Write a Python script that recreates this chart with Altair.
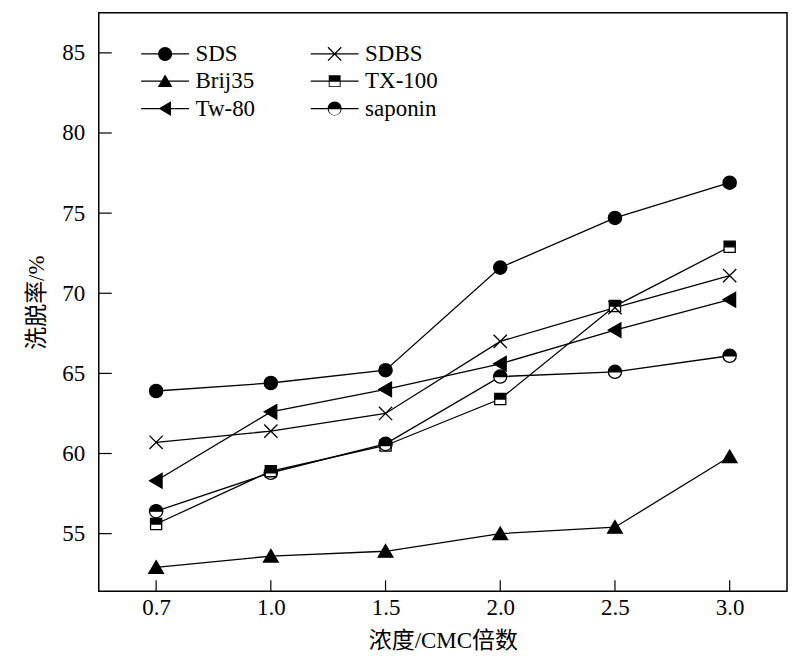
import altair as alt
import pandas as pd

x_labels = ["0.7", "1.0", "1.5", "2.0", "2.5", "3.0"]
series_names = ["SDS", "SDBS", "Brij35", "TX-100", "Tw-80", "saponin"]
sds = [63.9, 64.4, 65.2, 71.6, 74.7, 76.9]
sdbs = [60.7, 61.4, 62.5, 67.0, 69.1, 71.1]
brij35 = [52.9, 53.6, 53.9, 55.0, 55.4, 59.8]
tx100 = [55.6, 58.9, 60.5, 63.4, 69.2, 72.9]
tw80 = [58.3, 62.6, 64.0, 65.6, 67.7, 69.6]
saponin = [56.4, 58.8, 60.6, 64.8, 65.1, 66.1]
y_ticks = [55, 60, 65, 70, 75, 80, 85]
# legend fills column by column: left column, then right column
legend_order = ["SDS", "Brij35", "Tw-80", "SDBS", "TX-100", "saponin"]

values = [sds, sdbs, brij35, tx100, tw80, saponin]
rows = []
for name, vals in zip(series_names, values):
    for xl, v in zip(x_labels, vals):
        rows.append({"series": name, "x": xl, "y": v})
df = pd.DataFrame(rows)
ytick_df = pd.DataFrame({"y": y_ticks})
xtick_df = pd.DataFrame({"x": x_labels})

W, H = 690, 580
FONT = "'Liberation Serif', 'Times New Roman', serif"
CJK = "'Liberation Serif', 'Noto Sans CJK SC', serif"

# plot marker shapes (custom paths, unit box), drawn with fill + stroke
circle = "M-0.95,0A0.95,0.95 0 0,1 0.95,0A0.95,0.95 0 0,1 -0.95,0Z"
xmark = "M-0.95,-0.95L0.95,0.95M-0.95,0.95L0.95,-0.95"
tri_up = "M0,-0.95L1.05,0.85L-1.05,0.85Z"
sq_half = "M-0.8,-0.8L0.8,-0.8L0.8,0.8L-0.8,0.8Z M-0.8,0L-0.8,0.8L0.8,0.8L0.8,0Z"
sq_full = "M-0.8,-0.8L0.8,-0.8L0.8,0.8L-0.8,0.8Z"
tri_left = "M-0.95,0L0.85,-1.05L0.85,1.05Z"
circ_half = "M-0.95,0A0.95,0.95 0 0,1 0.95,0A0.95,0.95 0 0,1 -0.95,0Z M-0.95,0A0.95,0.95 0 0,0 0.95,0Z"

marker_paths = [circle, xmark, tri_up, sq_half, tri_left, circ_half]
backing_paths = [circle, xmark, tri_up, sq_full, tri_left, circle]

# legend shapes: fill-only paths, with the line segment drawn as a thin bar
bar = "M-3.43,-0.095L3.43,-0.095L3.43,0.095L-3.43,0.095Z"
lg_circle = "M-1.0,0A1.0,1.0 0 0,1 1.0,0A1.0,1.0 0 0,1 -1.0,0Z"
lg_x = ("M-0.884,-1.016L1.016,0.884L0.884,1.016L-1.016,-0.884Z"
        "M-0.884,1.016L-1.016,0.884L0.884,-1.016L1.016,-0.884Z")
lg_tri_up = "M0,-0.95L1.05,0.85L-1.05,0.85Z"
lg_sq_half = "M-0.85,-0.85L0.85,-0.85L0.85,0.85L-0.85,0.85Z M-0.72,0.07L-0.72,0.72L0.72,0.72L0.72,0.07Z"
lg_tri_left = "M-0.95,0L0.85,-1.05L0.85,1.05Z"
lg_circ_half = ("M-1.0,0A1.0,1.0 0 0,1 1.0,0A1.0,1.0 0 0,1 -1.0,0Z"
                "M-0.84,0.08A0.84,0.84 0 0,0 0.84,0.08Z")
lg_map = {
    "SDS": lg_circle, "SDBS": lg_x, "Brij35": lg_tri_up,
    "TX-100": lg_sq_half, "Tw-80": lg_tri_left, "saponin": lg_circ_half,
}
legend_paths = [bar + lg_map[n] for n in legend_order]

x_enc = alt.X(
    "x:N", sort=x_labels,
    scale=alt.Scale(type="point", padding=0.5),
    axis=alt.Axis(title="浓度/CMC倍数", ticks=False, domain=False, grid=False,
                  labelAngle=0, labelPadding=5, titleY=49, titleBaseline="middle"),
)
y_enc = alt.Y(
    "y:Q",
    scale=alt.Scale(domain=[51.4, 87.5], nice=False, zero=False),
    axis=alt.Axis(values=y_ticks, title="洗脱率/%", ticks=False, domain=False,
                  grid=False, labelPadding=14, titleX=-62, titleBaseline="middle"),
)

base = alt.Chart(df)

lines = base.mark_line(color="black", strokeWidth=1.3).encode(
    x=x_enc, y=y_enc, detail="series:N"
)

backing = base.mark_point(filled=True, fill="white", strokeWidth=0, size=196, opacity=1).encode(
    x=x_enc, y=y_enc,
    shape=alt.Shape("series:N", scale=alt.Scale(domain=series_names, range=backing_paths), legend=None),
)

points = base.mark_point(filled=True, fill="black", stroke="black", strokeWidth=1.3,
                         size=196, opacity=1).encode(
    x=x_enc, y=y_enc,
    shape=alt.Shape("series:N", scale=alt.Scale(domain=series_names, range=marker_paths), legend=None),
)

legend_layer = base.transform_filter("datum.y > 1000").mark_point(
    filled=True, fill="black", size=196, opacity=1
).encode(
    x=x_enc, y=y_enc,
    shape=alt.Shape(
        "series:N",
        scale=alt.Scale(domain=legend_order, range=legend_paths),
        legend=alt.Legend(
            title=None, orient="none", legendX=37, legendY=29.5, columns=2,
            labelFont=FONT, labelFontSize=23, labelColor="black", labelLimit=300,
            symbolSize=196, symbolOffset=18, labelOffset=19,
            symbolFillColor="black", symbolOpacity=1,
            rowPadding=3.5, columnPadding=50, padding=0,
        ),
    ),
)

yticks = alt.Chart(ytick_df).mark_rule(color="black", strokeWidth=1.2).encode(
    y=y_enc, x=alt.value(0), x2=alt.value(13)
)
xticks = alt.Chart(xtick_df).mark_rule(color="black", strokeWidth=1.2).encode(
    x=x_enc, y=alt.value(H), y2=alt.value(H - 11)
)

chart = alt.layer(lines, backing, points, legend_layer, yticks, xticks).resolve_scale(
    shape="independent"
).properties(
    width=W, height=H,
    autosize=alt.AutoSizeParams(type="none"),
    padding={"left": 91, "top": 4, "right": 5, "bottom": 62},
    background="white",
).configure_view(
    stroke="black", strokeWidth=1.5
).configure_axis(
    labelFont=FONT, labelFontSize=23, labelColor="black",
    titleFont=CJK, titleFontSize=23, titleFontWeight="normal", titleColor="black",
)

chart.save("out.html", embed_options={"renderer": "svg", "actions": False})
